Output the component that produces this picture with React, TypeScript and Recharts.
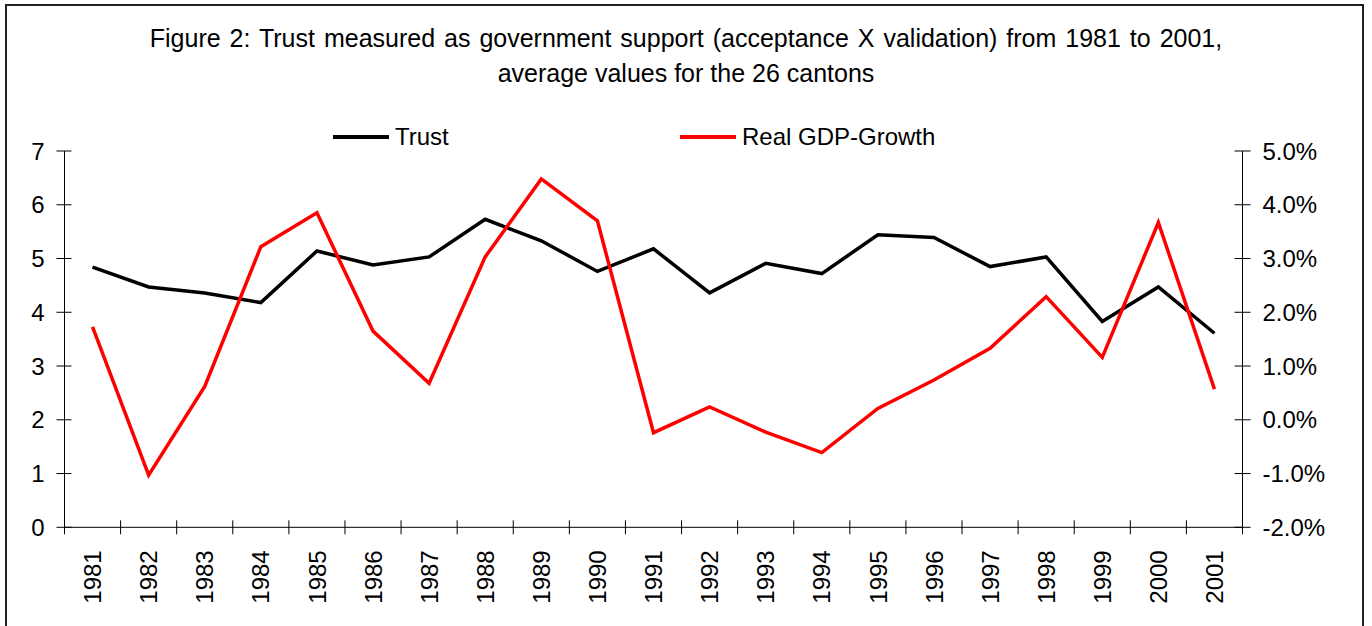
import React from 'react';
import { LineChart, Line, XAxis, YAxis, Legend } from 'recharts';

const years = ['1981','1982','1983','1984','1985','1986','1987','1988','1989','1990','1991','1992','1993','1994','1995','1996','1997','1998','1999','2000','2001'];
const trust = [4.84, 4.47, 4.36, 4.18, 5.14, 4.88, 5.03, 5.73, 5.33, 4.76, 5.18, 4.36, 4.91, 4.72, 5.44, 5.39, 4.85, 5.03, 3.83, 4.47, 3.61];
const gdpGrowth = [1.73, -1.03, 0.62, 3.22, 3.85, 1.65, 0.68, 3.03, 4.48, 3.70, -0.24, 0.24, -0.23, -0.61, 0.21, 0.74, 1.33, 2.29, 1.16, 3.67, 0.57];
const leftTicks = [0, 1, 2, 3, 4, 5, 6, 7];
const rightTicks = [-2, -1, 0, 1, 2, 3, 4, 5];
const titleLines = [
  'Figure 2: Trust measured as government support (acceptance X validation) from 1981 to 2001,',
  'average values for the 26 cantons',
];
const seriesNames = ['Trust', 'Real GDP-Growth'];

const data = years.map((y, i) => ({ year: y, trust: trust[i], gdp: gdpGrowth[i] }));

const W = 1372;
const H = 626;
const PLOT_LEFT = 64.5;
const PLOT_RIGHT = 1242.5;
const PLOT_TOP = 151;
const PLOT_BOTTOM = 527.3;
const HALF = (PLOT_RIGHT - PLOT_LEFT) / years.length / 2;
const FONT = '"Liberation Sans", Arial, Helvetica, sans-serif';
const FS = 24;

const LeftTick = (props: any) => {
  const { x, y, payload } = props;
  return (
    <g>
      <line x1={x - 8} x2={x + 7} y1={y} y2={y} stroke="#000" strokeWidth={1} />
      <text x={x - 20} y={y} dy="0.36em" textAnchor="end" fontSize={FS} fontFamily={FONT} fill="#000">
        {payload.value}
      </text>
    </g>
  );
};

const RightTick = (props: any) => {
  const { x, y, payload } = props;
  return (
    <g>
      <line x1={x - 8} x2={x + 8} y1={y} y2={y} stroke="#000" strokeWidth={1} />
      <text x={x + 20} y={y} dy="0.36em" textAnchor="start" fontSize={FS} fontFamily={FONT} fill="#000">
        {`${Number(payload.value).toFixed(1)}%`}
      </text>
    </g>
  );
};

const BottomTick = (props: any) => {
  const { x, y, payload, index } = props;
  const last = index === years.length - 1;
  return (
    <g>
      <line x1={x - HALF} x2={x - HALF} y1={y - 7} y2={y + 7} stroke="#000" strokeWidth={1} />
      {last && <line x1={x + HALF} x2={x + HALF} y1={y - 7} y2={y + 7} stroke="#000" strokeWidth={1} />}
      <text
        transform={`translate(${x},${y + 23}) rotate(-90)`}
        textAnchor="end"
        dy="0.36em"
        fontSize={FS}
        fontFamily={FONT}
        fill="#000"
      >
        {payload.value}
      </text>
    </g>
  );
};

const legendLefts = [333, 680];

const LegendContent = (props: any) => {
  const { payload } = props;
  const items = [...(payload || [])].sort(
    (a: any, b: any) => seriesNames.indexOf(a.value) - seriesNames.indexOf(b.value)
  );
  return (
    <div style={{ position: 'relative', width: W, height: 0 }}>
      {items.map((p: any, i: number) => (
        <div
          key={i}
          style={{
            position: 'absolute',
            left: legendLefts[i],
            top: 0,
            display: 'flex',
            alignItems: 'center',
            whiteSpace: 'nowrap',
            fontFamily: FONT,
            fontSize: FS,
            color: '#000',
            height: 30,
          }}
        >
          <span style={{ display: 'inline-block', width: 56, height: 4.5, background: p.color, marginRight: 6 }} />
          <span>{p.value}</span>
        </div>
      ))}
    </div>
  );
};

export default function App() {
  return (
    <div style={{ position: 'absolute', left: 0, top: 0, width: W, height: H, overflow: 'hidden', background: '#fff' }}>
      <div
        style={{
          position: 'absolute',
          left: 5,
          top: 4,
          width: 1359,
          height: 700,
          boxSizing: 'border-box',
          border: '2px solid #222',
        }}
      />
      <svg style={{ position: 'absolute', left: 0, top: 0 }} width={W} height={100}>
        {titleLines.map((t, i) => (
          <text
            key={i}
            x={686}
            y={46.7 + i * 35}
            textAnchor="middle"
            fontSize={25}
            fontFamily={FONT}
            fill="#000"
            style={{ wordSpacing: i === 0 ? '2px' : '0px' }}
          >
            {t}
          </text>
        ))}
      </svg>
      <div style={{ position: 'absolute', left: 0, top: 0 }}>
        <LineChart
          width={W}
          height={H}
          data={data}
          margin={{ top: PLOT_TOP, right: W - PLOT_RIGHT - 80, bottom: H - PLOT_BOTTOM - 60, left: PLOT_LEFT - 60 }}
        >
          <XAxis
            dataKey="year"
            height={60}
            interval={0}
            padding={{ left: HALF, right: HALF }}
            tickSize={0}
            tickMargin={0}
            tickLine={false}
            axisLine={{ stroke: '#000', strokeWidth: 1 }}
            tick={<BottomTick />}
          />
          <YAxis
            yAxisId="left"
            orientation="left"
            width={60}
            domain={[0, 7]}
            ticks={leftTicks}
            interval={0}
            tickSize={0}
            tickMargin={0}
            tickLine={false}
            axisLine={{ stroke: '#000', strokeWidth: 1 }}
            tick={<LeftTick />}
          />
          <YAxis
            yAxisId="right"
            orientation="right"
            width={80}
            domain={[-2, 5]}
            ticks={rightTicks}
            interval={0}
            tickSize={0}
            tickMargin={0}
            tickLine={false}
            axisLine={{ stroke: '#000', strokeWidth: 1 }}
            tick={<RightTick />}
          />
          <Legend
            verticalAlign="top"
            content={<LegendContent />}
            wrapperStyle={{ position: 'absolute', top: 122, left: 0, width: W, height: 0 }}
          />
          <Line
            yAxisId="left"
            type="linear"
            dataKey="trust"
            name={seriesNames[0]}
            stroke="#000000"
            strokeWidth={3.5}
            dot={false}
            isAnimationActive={false}
          />
          <Line
            yAxisId="right"
            type="linear"
            dataKey="gdp"
            name={seriesNames[1]}
            stroke="#FF0000"
            strokeWidth={3.5}
            dot={false}
            isAnimationActive={false}
          />
        </LineChart>
      </div>
    </div>
  );
}
